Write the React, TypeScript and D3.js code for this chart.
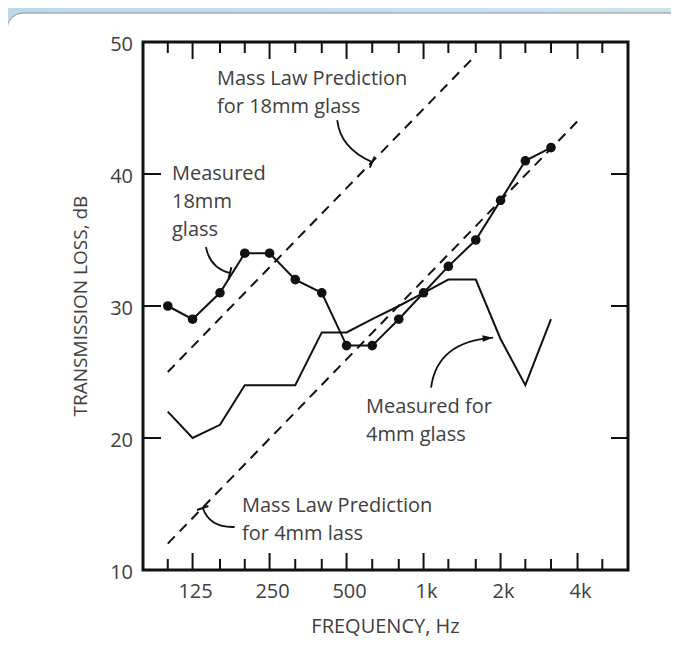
import React from 'react';
import * as d3 from 'd3';

// third-octave bands shown on the axes (Hz)
const bands = [100, 125, 160, 200, 250, 315, 400, 500, 630, 800, 1000, 1250, 1600, 2000, 2500, 3150, 4000, 5000];
const majorBands = [125, 250, 500, 1000, 2000, 4000];
const bandLabels = ['125', '250', '500', '1k', '2k', '4k'];
const yTicks = [10, 20, 30, 40, 50];

// measured 18mm glass (dots)
const freq18 = [100, 125, 160, 200, 250, 315, 400, 500, 630, 800, 1000, 1250, 1600, 2000, 2500, 3150];
const tl18 = [30, 29, 31, 34, 34, 32, 31, 27, 27, 29, 31, 33, 35, 38, 41, 42];

// measured 4mm glass (plain line)
const freq4 = [100, 125, 160, 200, 250, 315, 400, 500, 630, 800, 1000, 1250, 1600, 2000, 2500, 3150];
const tl4 = [22, 20, 21, 24, 24, 24, 28, 28, 29, 30, 31, 32, 32, 27.5, 24, 29];

// mass law predictions (dashed), end points
const massFreq18 = [100, 1600];
const massTl18 = [25, 49];
const massFreq4 = [100, 4000];
const massTl4 = [12, 44];

// annotation arrows: tip in data units, start and bend offsets in px from the tip
const notes = [
  { f: 630, tl: 40.9, sx: -35, sy: -42, cx: -32, cy: -14, head: 'bar' },
  { f: 175, tl: 32.5, sx: -24, sy: -26, cx: -20, cy: -5, head: 'bar' },
  { f: 1870, tl: 27.6, sx: -62, sy: 50, cx: -56, cy: 4, head: 'arrow' },
  { f: 137, tl: 14.7, sx: 32, sy: 19, cx: 7, cy: 20, head: 'bar' },
];

const W = 679, H = 661;
const margin = { left: 143, top: 42, right: 51, bottom: 91 };

export default function App() {
  const ref = React.useRef<SVGSVGElement>(null);

  React.useEffect(() => {
    if (!ref.current) return;
    const svg = d3.select(ref.current);
    svg.selectAll('*').remove();

    const x = d3.scaleLog().domain([80, 6300]).range([margin.left, W - margin.right]);
    const y = d3.scaleLinear().domain([10, 50]).range([H - margin.bottom, margin.top]);
    const font = '"Open Sans", "Noto Sans", sans-serif';
    const ink = '#111';
    const txt = '#404040';
    const fs = 20;

    // background + panel
    const defs = svg.append('defs');
    const g0 = defs.append('linearGradient').attr('id', 'bg').attr('x1', 0).attr('y1', 0).attr('x2', 1).attr('y2', 1);
    g0.append('stop').attr('offset', 0).attr('stop-color', '#bfd8e8');
    g0.append('stop').attr('offset', 0.5).attr('stop-color', '#d3e3ed');
    g0.append('stop').attr('offset', 1).attr('stop-color', '#b8d2e3');
    svg.append('rect').attr('width', W).attr('height', H).attr('fill', 'url(#bg)');
    svg.append('rect').attr('x', 7).attr('y', 13).attr('width', 682).attr('height', 700)
      .attr('rx', 16).attr('fill', '#fff').attr('stroke', '#7f9099').attr('stroke-width', 1);

    // ticks top/bottom, left/right
    const tickG = svg.append('g').attr('stroke', ink).attr('stroke-width', 2);
    bands.forEach(b => {
      const len = majorBands.includes(b) ? 17 : 11;
      tickG.append('line').attr('x1', x(b)).attr('x2', x(b)).attr('y1', y(10)).attr('y2', y(10) - len);
      tickG.append('line').attr('x1', x(b)).attr('x2', x(b)).attr('y1', y(50)).attr('y2', y(50) + len);
    });
    [20, 30, 40].forEach(v => {
      tickG.append('line').attr('x1', x(80)).attr('x2', x(80) + 18).attr('y1', y(v)).attr('y2', y(v));
      tickG.append('line').attr('x1', x(6300)).attr('x2', x(6300) - 17).attr('y1', y(v)).attr('y2', y(v));
    });

    // frame
    svg.append('rect').attr('x', x(80)).attr('y', y(50))
      .attr('width', x(6300) - x(80)).attr('height', y(10) - y(50))
      .attr('fill', 'none').attr('stroke', ink).attr('stroke-width', 3);

    // tick labels
    yTicks.forEach(v => {
      svg.append('text').attr('x', 133).attr('y', y(v) + 9)
        .attr('text-anchor', 'end').attr('font-family', font).attr('font-size', fs)
        .attr('fill', txt).text(v);
    });
    majorBands.forEach((b, i) => {
      svg.append('text').attr('x', x(b) + 3).attr('y', 598)
        .attr('text-anchor', 'middle').attr('font-family', font).attr('font-size', fs)
        .attr('fill', txt).text(bandLabels[i]);
    });
    svg.append('text').attr('x', (x(80) + x(6300)) / 2).attr('y', 633).attr('text-anchor', 'middle')
      .attr('font-family', font).attr('font-size', fs).attr('fill', txt).text('FREQUENCY, Hz');
    svg.append('text').attr('transform', `translate(87,${(y(10) + y(50)) / 2}) rotate(-90)`).attr('text-anchor', 'middle')
      .attr('font-family', font).attr('font-size', 19).attr('fill', txt).text('TRANSMISSION LOSS, dB');

    // mass law lines
    const line = d3.line<[number, number]>().x(d => x(d[0])).y(d => y(d[1]));
    [[massFreq18, massTl18], [massFreq4, massTl4]].forEach(([fq, ts]) => {
      svg.append('path').datum(fq.map((f, i) => [f, ts[i]] as [number, number]))
        .attr('d', line).attr('fill', 'none').attr('stroke', ink).attr('stroke-width', 2)
        .attr('stroke-dasharray', '10 7');
    });

    // measured 4mm
    svg.append('path').datum(freq4.map((f, i) => [f, tl4[i]] as [number, number]))
      .attr('d', line).attr('fill', 'none').attr('stroke', ink).attr('stroke-width', 2);

    // measured 18mm
    const pts18 = freq18.map((f, i) => [f, tl18[i]] as [number, number]);
    svg.append('path').datum(pts18).attr('d', line).attr('fill', 'none')
      .attr('stroke', ink).attr('stroke-width', 2);
    svg.selectAll('circle.m18').data(pts18).join('circle').attr('class', 'm18')
      .attr('cx', d => x(d[0])).attr('cy', d => y(d[1])).attr('r', 4.8).attr('fill', ink);

    // annotation arrows
    notes.forEach(n => {
      const ex = x(n.f), ey = y(n.tl);
      const sx = ex + n.sx, sy = ey + n.sy;
      const cx = ex + n.cx, cy = ey + n.cy;
      const p = d3.path();
      p.moveTo(sx, sy);
      p.quadraticCurveTo(cx, cy, ex, ey);
      svg.append('path').attr('d', p.toString()).attr('fill', 'none').attr('stroke', ink).attr('stroke-width', 1.8);
      const ang = Math.atan2(ey - cy, ex - cx);
      if (n.head === 'bar') {
        const L = 6;
        svg.append('line')
          .attr('x1', ex + Math.cos(ang + Math.PI / 2) * L).attr('y1', ey + Math.sin(ang + Math.PI / 2) * L)
          .attr('x2', ex - Math.cos(ang + Math.PI / 2) * L).attr('y2', ey - Math.sin(ang + Math.PI / 2) * L)
          .attr('stroke', ink).attr('stroke-width', 2);
      } else {
        const L = 11, s = 0.3;
        svg.append('path')
          .attr('d', `M${ex},${ey} L${ex - L * Math.cos(ang - s)},${ey - L * Math.sin(ang - s)} L${ex - L * Math.cos(ang + s)},${ey - L * Math.sin(ang + s)} Z`)
          .attr('fill', ink);
      }
    });

    // annotation texts
    const label = (lines: string[], lx: number, ly: number) => {
      lines.forEach((t, i) => {
        svg.append('text').attr('x', lx).attr('y', ly + i * 28).attr('font-family', font)
          .attr('font-size', fs).attr('fill', txt).text(t);
      });
    };
    label(['Mass Law Prediction', 'for 18mm glass'], 217, 85);
    label(['Measured', '18mm', 'glass'], 172, 180);
    label(['Measured for', '4mm glass'], 366, 413);
    label(['Mass Law Prediction', 'for 4mm lass'], 242, 512);
  }, []);

  return (
    <div style={{ margin: -8, width: W, height: H }}>
      <svg ref={ref} width={W} height={H} style={{ display: 'block' }} />
    </div>
  );
}
